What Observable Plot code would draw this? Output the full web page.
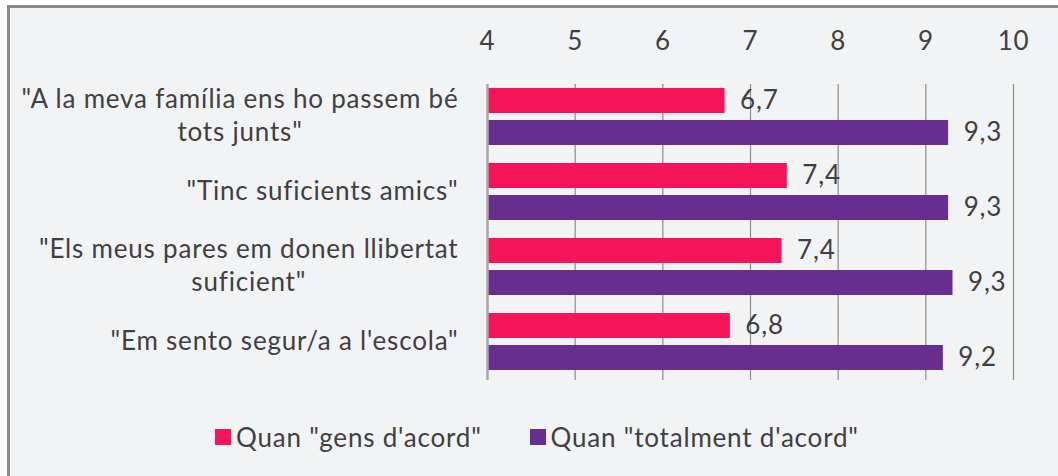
<!DOCTYPE html>
<html>
<head>
<meta charset="utf-8">
<script src="https://cdn.jsdelivr.net/npm/d3@7"></script>
<script src="https://cdn.jsdelivr.net/npm/@observablehq/plot@0.6"></script>
<style>
  html, body { margin: 0; padding: 0; background: #ffffff; }
  body { width: 1058px; height: 476px; position: relative; overflow: hidden; font-family: Lato, "Open Sans", sans-serif; color: #404040; }
  .frame { position: absolute; left: 7px; top: 5px; width: 1100px; height: 520px; border-left: 3px solid #8c8c8c; border-top: 3px solid #8c8c8c; background: #F2F3F5; }
  #chart { position: absolute; left: 0; top: 0; }
  #chart svg { background: transparent; overflow: visible; }
  #chart svg text { letter-spacing: 0.8px; }
  .legend { position: absolute; left: 215px; top: 421px; display: flex; gap: 48px; font-size: 26px; letter-spacing: 0.8px; color: #404040; white-space: nowrap; }
  .legend .item { display: flex; align-items: center; gap: 5px; }
  .legend .sw { width: 16px; height: 16px; display: inline-block; }
</style>
</head>
<body>
<div class="frame"></div>
<div id="chart"></div>
<div class="legend" id="legend"></div>
<script>
// ---- data ----
const categories = [
  '"A la meva família ens ho passem bé\ntots junts"',
  '"Tinc suficients amics"',
  '"Els meus pares em donen llibertat\nsuficient"',
  '"Em sento segur/a a l\'escola"'
];
const series = ['Quan "gens d\'acord"', 'Quan "totalment d\'acord"'];
const gensValues = [6.71, 7.42, 7.36, 6.77];
const totalValues = [9.26, 9.26, 9.31, 9.2];
const xTicks = [4, 5, 6, 7, 8, 9, 10];
const colors = ["#F5145A", "#682E8F"];

const rows = categories.flatMap((c, i) => [
  {cat: c, series: series[0], value: gensValues[i]},
  {cat: c, series: series[1], value: totalValues[i]}
]);
const gensRows = rows.filter(d => d.series === series[0]);
const totalRows = rows.filter(d => d.series === series[1]);
const fmt = v => d3.format(".1f")(v).replace(".", ",");
const xMin = xTicks[0];

const plot = Plot.plot({
  width: 1058,
  height: 400,
  marginLeft: 487,
  marginRight: 45,
  marginTop: 77,
  marginBottom: 20,
  style: {fontFamily: "Lato, 'Open Sans', sans-serif", color: "#404040", background: "transparent"},
  x: {domain: [xTicks[0], xTicks[xTicks.length - 1]], axis: null},
  y: {domain: categories, padding: 0, axis: null},
  color: {domain: series, range: colors},
  marks: [
    Plot.ruleX(xTicks.slice(1), {x: d => d, stroke: "#8c8c8c", strokeWidth: 1.2, insetTop: 7}),
    Plot.barX(gensRows, {x1: xMin, x2: "value", y: "cat", fill: "series", insetTop: 9, insetBottom: 41}),
    Plot.barX(totalRows, {x1: xMin, x2: "value", y: "cat", fill: "series", insetTop: 41, insetBottom: 9}),
    Plot.ruleX([xMin], {x: d => d, stroke: "#a6a6a6", strokeWidth: 2.5, insetTop: 7}),
    Plot.text(gensRows, {x: "value", y: "cat", text: d => fmt(d.value), dx: 15, dy: -16, textAnchor: "start", fontSize: 26, fill: "#404040"}),
    Plot.text(totalRows, {x: "value", y: "cat", text: d => fmt(d.value), dx: 15, dy: 16, textAnchor: "start", fontSize: 26, fill: "#404040"}),
    Plot.text(xTicks, {x: d => d, frameAnchor: "top", dy: -36, lineAnchor: "middle", fontSize: 26, fill: "#404040"}),
    Plot.text(categories, {y: d => d, text: d => d, frameAnchor: "left", dx: -29, dy: -3, textAnchor: "end", lineAnchor: "middle", lineHeight: 1.27, fontSize: 26, fill: "#404040"})
  ]
});
document.getElementById("chart").appendChild(plot);

// center the lines of multi-line category labels within their right-aligned block
plot.querySelectorAll("text").forEach(t => {
  const spans = t.querySelectorAll("tspan");
  if (spans.length < 2) return;
  let w = 0;
  spans.forEach(s => { w = Math.max(w, s.getComputedTextLength()); });
  t.setAttribute("text-anchor", "middle");
  t.style.textAnchor = "middle";
  spans.forEach(s => s.setAttribute("x", String(-w / 2)));
});

// legend
const legend = document.getElementById("legend");
series.forEach((s, i) => {
  const item = document.createElement("div");
  item.className = "item";
  const sw = document.createElement("span");
  sw.className = "sw";
  sw.style.background = colors[i];
  const lab = document.createElement("span");
  lab.textContent = s;
  item.appendChild(sw);
  item.appendChild(lab);
  legend.appendChild(item);
});
</script>
</body>
</html>
